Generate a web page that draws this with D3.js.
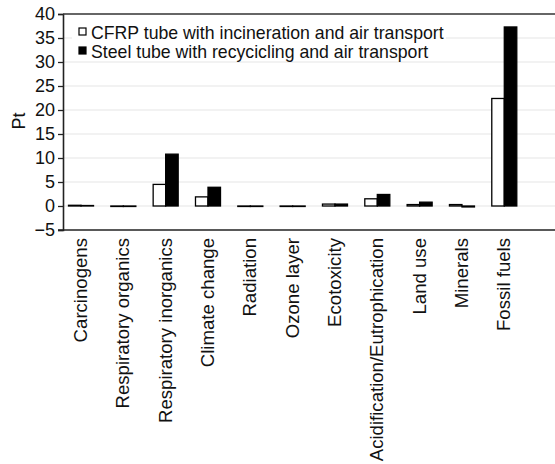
<!DOCTYPE html>
<html>
<head>
<meta charset="utf-8">
<script src="https://cdn.jsdelivr.net/npm/d3@7"></script>
<style>
  html, body { margin: 0; padding: 0; background: #fff; }
  svg { display: block; font-family: "Liberation Sans", Arial, sans-serif; }
</style>
</head>
<body>
<svg id="chart" width="555" height="464"></svg>
<script>
// Impact categories (damage assessment, single score in Pt)
const categories = [
  "Carcinogens", "Respiratory organics", "Respiratory inorganics",
  "Climate change", "Radiation", "Ozone layer", "Ecotoxicity",
  "Acidification/Eutrophication", "Land use", "Minerals", "Fossil fuels"
];
const seriesNames = [
  "CFRP tube with incineration and air transport",
  "Steel tube with recycicling and air transport"
];
const cfrpValues  = [0.15, -0.1, 4.5, 1.9, -0.1, -0.1, 0.4, 1.5, 0.3, 0.3, 22.4];
const steelValues = [0.1, -0.1, 10.8, 3.9, -0.1, -0.1, 0.4, 2.4, 0.8, -0.2, 37.3];
const yTicks = [-5, 0, 5, 10, 15, 20, 25, 30, 35, 40];

const svg = d3.select("#chart");
const plotLeft = 63, plotRight = 555, plotTop = 14, plotBottom = 230;

const y = d3.scaleLinear().domain([-5, 40]).range([plotBottom, plotTop]);
const x = d3.scaleBand().domain(categories)
  .range([plotLeft, 522.3]).paddingInner(0.409).paddingOuter(0.13);
const sub = d3.scaleBand().domain([0, 1]).range([0, x.bandwidth()]);

// horizontal gridlines
svg.append("g").selectAll("line").data(yTicks.filter(t => t > -5 && t < 40)).join("line")
  .attr("x1", plotLeft).attr("x2", plotRight)
  .attr("y1", d => y(d)).attr("y2", d => y(d))
  .attr("stroke", "#e6e6e6").attr("stroke-width", 1.2);

// legend background blocks the gridlines behind the text
const legend = svg.append("g");
legend.append("rect").attr("x", 72).attr("y", 22).attr("width", 374).attr("height", 19).attr("fill", "#fff");
legend.append("rect").attr("x", 72).attr("y", 41).attr("width", 358).attr("height", 19).attr("fill", "#fff");

// bars
const rows = categories.map((c, i) => ({ c, v: [cfrpValues[i], steelValues[i]] }));
const groups = svg.append("g").selectAll("g").data(rows).join("g")
  .attr("transform", d => `translate(${x(d.c)},0)`);
groups.selectAll("rect").data(d => d.v.map((v, k) => ({ v, k }))).join("rect")
  .attr("x", d => sub(d.k))
  .attr("width", sub.bandwidth())
  .attr("y", d => y(Math.max(0, d.v)))
  .attr("height", d => Math.abs(y(d.v) - y(0)))
  .attr("fill", d => d.k === 0 ? "#fff" : "#000")
  .attr("stroke", "#000").attr("stroke-width", 1.3);

// y axis
const yAxis = svg.append("g").attr("transform", `translate(${plotLeft},0)`)
  .call(d3.axisLeft(y).tickValues(yTicks).tickSize(5).tickPadding(3)
    .tickFormat(d => d < 0 ? "\u2212" + Math.abs(d) : d));
yAxis.select(".domain").attr("stroke", "#222").attr("stroke-width", 1.6);
yAxis.selectAll(".tick line").attr("stroke", "#222").attr("stroke-width", 1.3);
yAxis.selectAll("text").attr("font-size", 18).attr("fill", "#111")
  .attr("font-family", "Liberation Sans, Arial, sans-serif");

// top frame and bottom axis
svg.append("line").attr("x1", plotLeft).attr("x2", plotRight).attr("y1", plotTop).attr("y2", plotTop)
  .attr("stroke", "#333").attr("stroke-width", 1.6);
svg.append("line").attr("x1", plotLeft - 5).attr("x2", plotRight).attr("y1", plotBottom).attr("y2", plotBottom)
  .attr("stroke", "#222").attr("stroke-width", 1.6);

// category labels
svg.append("g").selectAll("text").data(categories).join("text")
  .attr("transform", d => `translate(${x(d) + x.bandwidth() / 2 + 6},${plotBottom + 8}) rotate(-90)`)
  .attr("text-anchor", "end")
  .attr("font-size", 18.6).attr("fill", "#111")
  .text(d => d);

// y axis title
svg.append("text")
  .attr("transform", `translate(25,121) rotate(-90)`)
  .attr("text-anchor", "middle")
  .attr("font-size", 18).attr("fill", "#111")
  .text("Pt");

// legend entries
seriesNames.forEach((name, k) => {
  const cy = 32 + k * 19;
  legend.append("rect").attr("x", 79).attr("y", cy - 4).attr("width", 7).attr("height", 7)
    .attr("fill", k === 0 ? "#fff" : "#000").attr("stroke", "#000").attr("stroke-width", 1.2);
  legend.append("text").attr("x", 91).attr("y", cy + 6.5)
    .attr("font-size", 17.7).attr("fill", "#111").text(name);
});
</script>
</body>
</html>
